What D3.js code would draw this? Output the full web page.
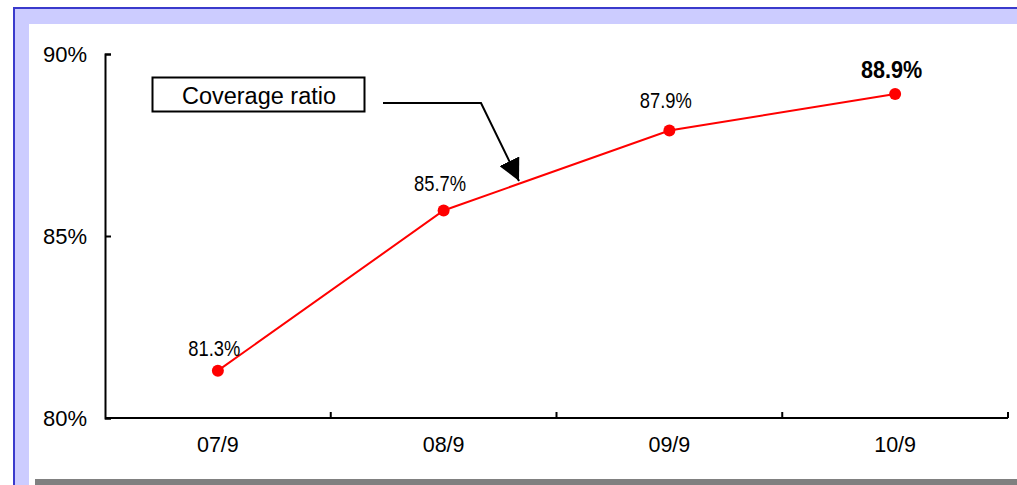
<!DOCTYPE html>
<html>
<head>
<meta charset="utf-8">
<script src="https://cdn.jsdelivr.net/npm/d3@7"></script>
<style>
  html, body { margin: 0; padding: 0; background: #ffffff; }
  svg { display: block; }
  text { font-family: "Liberation Sans", Arial, sans-serif; fill: #000; }
</style>
</head>
<body>
<svg id="chart" width="1017" height="485"></svg>
<script>
// Coverage ratio, September of each year
const categories = ["07/9", "08/9", "09/9", "10/9"];
const coverage = [81.3, 85.7, 87.9, 88.9];
const yTicks = [80, 85, 90];
const seriesName = "Coverage ratio";

// vertical lift of each value label above its marker (px)
const labelLift = [15, 20, 22, 16];

const W = 1017, H = 485;
const svg = d3.select("#chart");

// slide frame: blue rule, lavender band, white panel with grey shadow strip
svg.append("rect").attr("x", 0).attr("y", 0).attr("width", W).attr("height", H).attr("fill", "#ffffff");
svg.append("rect").attr("x", 13).attr("y", 7).attr("width", W - 13).attr("height", H - 7).attr("fill", "#3a3acc");
svg.append("rect").attr("x", 15).attr("y", 9).attr("width", W - 15).attr("height", H - 9).attr("fill", "#ccccff");
svg.append("rect").attr("x", 29).attr("y", 24).attr("width", W - 29).attr("height", H - 24).attr("fill", "#ffffff");
svg.append("rect").attr("x", 35).attr("y", 479).attr("width", W - 35).attr("height", H - 479).attr("fill", "#808080");

const x0 = 105, x1 = 1008, yBottom = 418, yTop = 54;

const x = d3.scaleBand().domain(categories).range([x0, x1]);
const y = d3.scaleLinear().domain([80, 90]).range([yBottom, yTop]);

// Y axis with inward ticks
const yAxis = svg.append("g").attr("transform", `translate(${x0},0)`)
  .call(d3.axisRight(y).tickValues(yTicks).tickSize(6).tickFormat(""));
yAxis.select(".domain").attr("stroke", "#000").attr("stroke-width", 2);
yAxis.selectAll(".tick line").attr("stroke", "#000").attr("stroke-width", 2);

svg.append("g").selectAll("text").data(yTicks).join("text")
  .attr("x", 87).attr("y", d => y(d)).attr("dy", "0.36em")
  .attr("text-anchor", "end").attr("font-size", 22)
  .text(d => d + "%");

// X axis: boundaries between categories, ticks pointing up
const bounds = categories.map(c => x(c) + x.bandwidth());
const xAxisG = svg.append("g");
xAxisG.append("line").attr("x1", x0).attr("x2", x1).attr("y1", yBottom).attr("y2", yBottom)
  .attr("stroke", "#000").attr("stroke-width", 2);
xAxisG.selectAll("line.tk").data(bounds).join("line").attr("class", "tk")
  .attr("x1", d => d).attr("x2", d => d).attr("y1", yBottom).attr("y2", yBottom - 6)
  .attr("stroke", "#000").attr("stroke-width", 2);

svg.append("g").selectAll("text").data(categories).join("text")
  .attr("x", d => x(d) + x.bandwidth() / 2).attr("y", 452)
  .attr("text-anchor", "middle").attr("font-size", 21.5)
  .text(d => d);

// Series line and markers
const pts = categories.map((c, i) => ({ c, i, v: coverage[i], px: x(c) + x.bandwidth() / 2, py: y(coverage[i]) }));
svg.append("path").datum(pts)
  .attr("d", d3.line().x(d => d.px).y(d => d.py))
  .attr("fill", "none").attr("stroke", "#ff0000").attr("stroke-width", 2);
svg.append("g").selectAll("circle").data(pts).join("circle")
  .attr("cx", d => d.px).attr("cy", d => d.py).attr("r", 6).attr("fill", "#ff0000");

// Value labels in a condensed face; latest value in bold
const last = pts.length - 1;
svg.append("g").selectAll("text").data(pts).join("text")
  .attr("transform", d => `translate(${d.px - 3.5},${d.py - labelLift[d.i]}) scale(${d.i === last ? 0.9 : 0.835},1)`)
  .attr("text-anchor", "middle")
  .attr("font-size", d => d.i === last ? 24 : 22)
  .attr("font-weight", d => d.i === last ? "bold" : "normal")
  .text(d => d.v.toFixed(1) + "%");

// Callout box with arrow pointing at the line
svg.append("rect").attr("x", 152.5).attr("y", 77.5).attr("width", 212).attr("height", 34)
  .attr("fill", "#fff").attr("stroke", "#000").attr("stroke-width", 2);
svg.append("text").attr("x", 259).attr("y", 104).attr("text-anchor", "middle")
  .attr("font-size", 23.5).text(seriesName);

svg.append("defs").append("marker").attr("id", "arrow")
  .attr("viewBox", "0 0 10 10").attr("refX", 10).attr("refY", 5)
  .attr("markerWidth", 22).attr("markerHeight", 22).attr("markerUnits", "userSpaceOnUse")
  .attr("orient", "auto")
  .append("path").attr("d", "M0,0 L10,5 L0,10 Z").attr("fill", "#000");
svg.append("polyline")
  .attr("points", "383,103 481,103 519,181")
  .attr("fill", "none").attr("stroke", "#000").attr("stroke-width", 2)
  .attr("marker-end", "url(#arrow)");
</script>
</body>
</html>
